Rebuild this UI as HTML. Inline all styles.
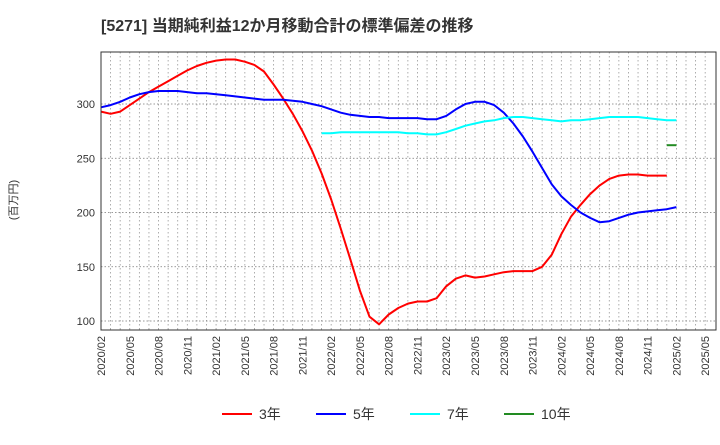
<!DOCTYPE html>
<html><head><meta charset="utf-8"><style>
body{margin:0;background:#fff;width:720px;height:440px;overflow:hidden;font-family:"Liberation Sans","Noto Sans CJK JP",sans-serif}
</style></head><body>
<svg id="c" width="720" height="440" xmlns="http://www.w3.org/2000/svg">
<text x="101" y="31" font-size="16" font-weight="bold" fill="#333" font-family="Liberation Sans,Noto Sans CJK JP,sans-serif">[5271]  当期純利益12か月移動合計の標準偏差の推移</text>
<text transform="translate(17,200) rotate(-90)" font-size="11" fill="#333" text-anchor="middle" font-family="Liberation Sans,Noto Sans CJK JP,sans-serif">(百万円)</text>
<g id="grid"></g><g id="series"></g><g id="axes"></g>
</svg>
<script>
const yTicks=[100,150,200,250,300];
const xLabels=["2020/02","2020/05","2020/08","2020/11","2021/02","2021/05","2021/08","2021/11","2022/02","2022/05","2022/08","2022/11","2023/02","2023/05","2023/08","2023/11","2024/02","2024/05","2024/08","2024/11","2025/02","2025/05"];
const s3=[293,291,293,299,305,311,316,321,326,331,335,338,340,341,341,339,336,330,318,305,291,275,257,236,212,185,157,128,104,97,106,112,116,118,118,121,132,139,142,140,141,143,145,146,146,146,150,161,180,196,207,217,225,231,234,235,235,234,234,234];
const s3Start=0;
const s5=[297,299,302,306,309,311,312,312,312,311,310,310,309,308,307,306,305,304,304,304,303,302,300,298,295,292,290,289,288,288,287,287,287,287,286,286,289,295,300,302,302,299,292,282,270,256,241,226,215,207,200,195,191,192,195,198,200,201,202,203,205];
const s7Start=23;
const s7=[273,273,274,274,274,274,274,274,274,273,273,272,272,274,277,280,282,284,285,287,288,288,287,286,285,284,285,285,286,287,288,288,288,288,287,286,285,285];
const s10Start=59;
const s10=[262,262];
const X0=101,MW=9.59,YT=52,YB=330;
const xs=i=>X0+i*MW;
const ys=v=>104+(300-v)*(217/200);
const NS="http://www.w3.org/2000/svg";
function mk(t,a,p){const e=document.createElementNS(NS,t);for(const k in a)e.setAttribute(k,a[k]);p.appendChild(e);return e;}
const grid=document.getElementById('grid'),ser=document.getElementById('series'),ax=document.getElementById('axes');
for(let m=1;m<64;m++){const x=xs(m);if(x>=716)break;
const l=mk('line',{x1:x,x2:x,y1:YT,y2:YB,stroke:'#999','stroke-width':0.8,'stroke-dasharray':'1.5,2.5'},grid);

}
yTicks.forEach(v=>{const y=ys(v);
const l=mk('line',{x1:X0,x2:716,y1:y,y2:y,stroke:'#777','stroke-width':0.8,'stroke-dasharray':'1.5,2'},grid);


const t=mk('text',{x:X0-6,y:y+4,'font-size':11,fill:'#333','text-anchor':'end'},ax);t.textContent=v;

});
xLabels.forEach((s,i)=>{const x=xs(i*3);
const t=mk('text',{transform:`translate(${x+4},${YB+6}) rotate(-90)`,'font-size':11,fill:'#333','text-anchor':'end'},ax);t.textContent=s;

});
const fr=mk('rect',{x:X0,y:YT,width:716-X0,height:YB-YT,fill:'none',stroke:'#333','stroke-width':1},ax);


function line(arr,start,col,name){const p=arr.map((v,i)=>xs(start+i).toFixed(1)+','+ys(v).toFixed(1)).join(' ');
const e=mk('polyline',{points:p,fill:'none',stroke:col,'stroke-width':2,'stroke-linejoin':'round'},ser);

}
line(s3,s3Start,'#f00','series-3y');line(s5,0,'#00f','series-5y');line(s7,s7Start,'#0ff','series-7y');line(s10,s10Start,'#228b22','series-10y');
const leg=[["3年","#f00",222],["5年","#00f",316],["7年","#0ff",410],["10年","#228b22",504]];
leg.forEach(([n,c,x])=>{const g=mk('g',{},ax);


mk('line',{x1:x,x2:x+30,y1:414,y2:414,stroke:c,'stroke-width':2},g);
const t=mk('text',{x:x+37,y:419,'font-size':14,fill:'#333'},g);t.textContent=n;});
</script>
</body></html>
